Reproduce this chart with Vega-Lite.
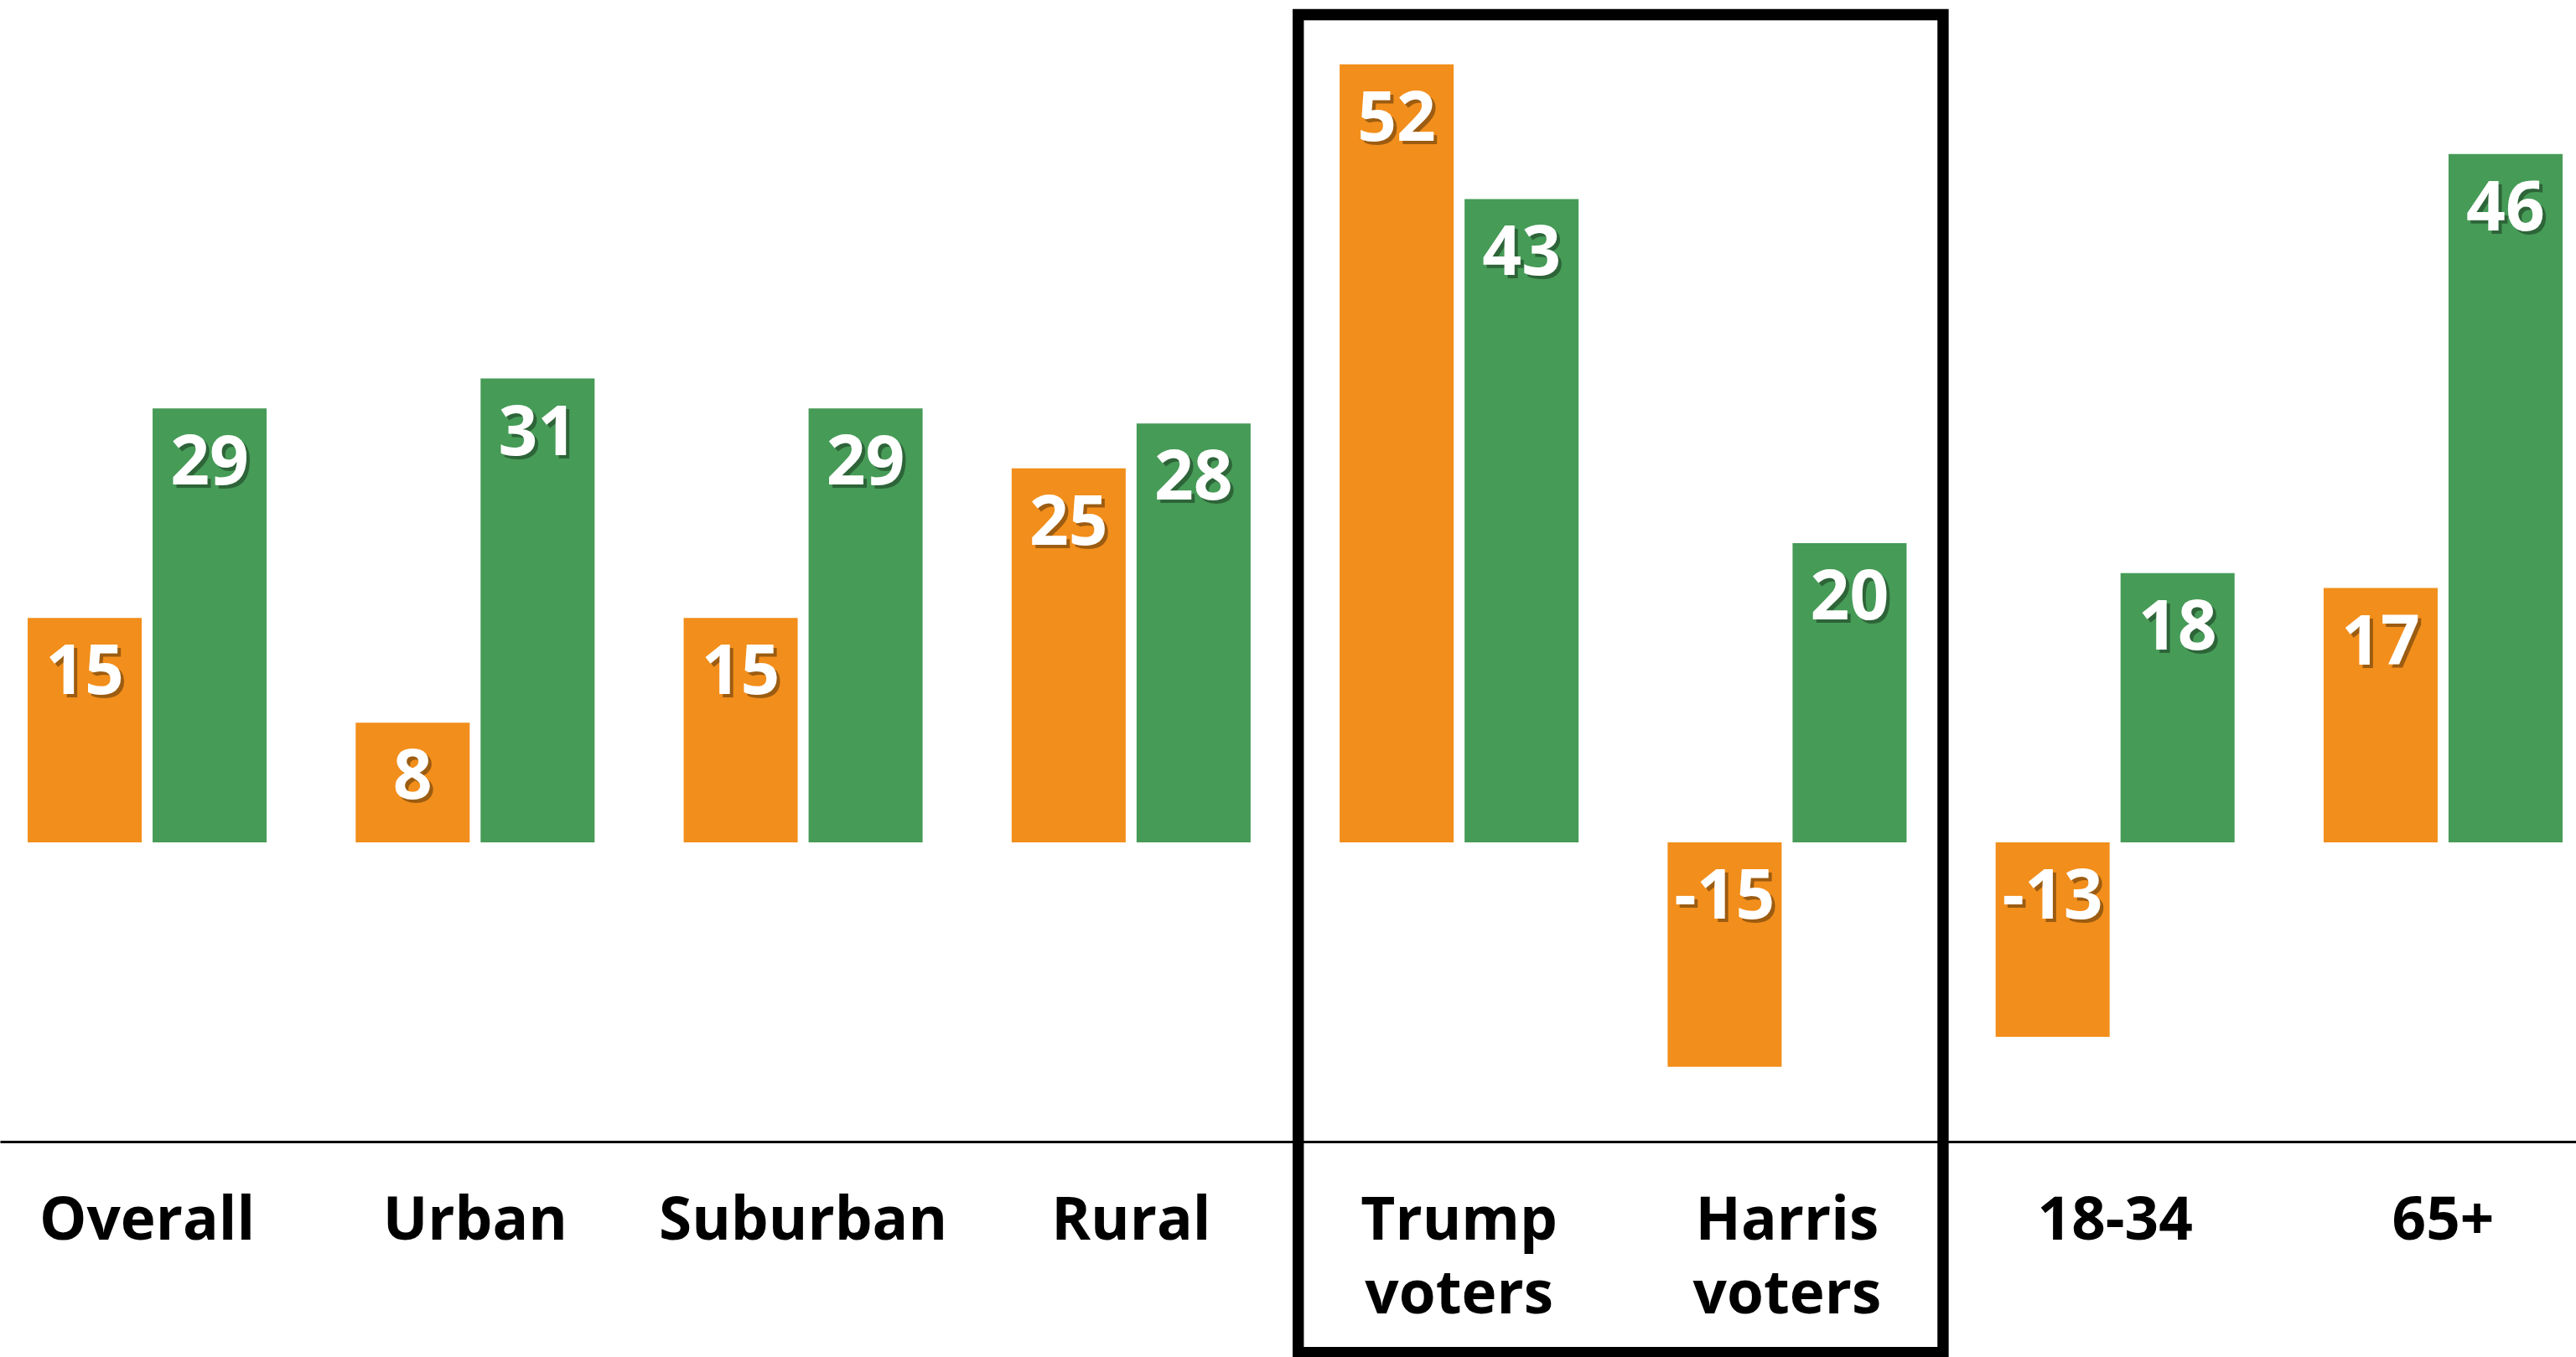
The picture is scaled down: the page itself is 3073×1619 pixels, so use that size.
{
  "$schema": "https://vega.github.io/schema/vega-lite/v6.json",
  "width": 3090,
  "height": 1362,
  "autosize": {"type": "none"},
  "padding": {"left": 0, "top": 0, "right": 0, "bottom": 257},
  "background": "white",
  "config": {"view": {"stroke": null}},
  "data": {
    "values": [
      {"group": "Overall", "series": "Series 1", "value": 15},
      {"group": "Overall", "series": "Series 2", "value": 29},
      {"group": "Urban", "series": "Series 1", "value": 8},
      {"group": "Urban", "series": "Series 2", "value": 31},
      {"group": "Suburban", "series": "Series 1", "value": 15},
      {"group": "Suburban", "series": "Series 2", "value": 29},
      {"group": "Rural", "series": "Series 1", "value": 25},
      {"group": "Rural", "series": "Series 2", "value": 28},
      {"group": "Trump voters", "series": "Series 1", "value": 52},
      {"group": "Trump voters", "series": "Series 2", "value": 43},
      {"group": "Harris voters", "series": "Series 1", "value": -15},
      {"group": "Harris voters", "series": "Series 2", "value": 20},
      {"group": "18-34", "series": "Series 1", "value": -13},
      {"group": "18-34", "series": "Series 2", "value": 18},
      {"group": "65+", "series": "Series 1", "value": 17},
      {"group": "65+", "series": "Series 2", "value": 46}
    ]
  },
  "encoding": {
    "x": {
      "field": "group",
      "type": "nominal",
      "sort": null,
      "scale": {"paddingInner": 0.2715, "paddingOuter": 0.0844},
      "axis": {
        "title": null,
        "labelAngle": 0,
        "labelFont": "Open Sans",
        "labelFontWeight": "bold",
        "labelFontSize": 71,
        "labelColor": "black",
        "labelPadding": 60,
        "labelLimit": 1000,
        "labelOverlap": false,
        "labelBound": false,
        "labelExpr": "split(datum.label, ' ')",
        "labelLineHeight": 88,
        "ticks": false,
        "tickSize": 0,
        "grid": false,
        "domainColor": "black",
        "domainWidth": 3
      }
    }
  },
  "layer": [
    {
      "mark": {"type": "bar"},
      "encoding": {
        "xOffset": {"field": "series", "type": "nominal", "scale": {"paddingInner": 0.0872, "paddingOuter": 0}},
        "y": {"field": "value", "type": "quantitative", "scale": {"domain": [-20, 56.3], "nice": false, "zero": false}, "axis": null},
        "y2": {"datum": 0},
        "color": {"field": "series", "type": "nominal", "scale": {"domain": ["Series 1", "Series 2"], "range": ["#F28E1B", "#469B57"]}, "legend": null}
      }
    },
    {
      "transform": [{"filter": "datum.value >= 0"}],
      "mark": {"type": "text", "font": "Open Sans", "fontWeight": "bold", "fontSize": 82, "align": "center", "baseline": "alphabetic", "dx": 4, "dy": 95, "fill": "#000000", "opacity": 0.35},
      "encoding": {
        "xOffset": {"field": "series", "type": "nominal"},
        "y": {"field": "value", "type": "quantitative"},
        "text": {"field": "value", "type": "nominal"}
      }
    },
    {
      "transform": [{"filter": "datum.value < 0"}],
      "mark": {"type": "text", "font": "Open Sans", "fontWeight": "bold", "fontSize": 82, "align": "center", "baseline": "alphabetic", "dx": 4, "dy": 95, "fill": "#000000", "opacity": 0.35},
      "encoding": {
        "xOffset": {"field": "series", "type": "nominal"},
        "y": {"datum": 0, "type": "quantitative"},
        "text": {"field": "value", "type": "nominal"}
      }
    },
    {
      "transform": [{"filter": "datum.value >= 0"}],
      "mark": {"type": "text", "font": "Open Sans", "fontWeight": "bold", "fontSize": 82, "align": "center", "baseline": "alphabetic", "dy": 91, "fill": "white"},
      "encoding": {
        "xOffset": {"field": "series", "type": "nominal"},
        "y": {"field": "value", "type": "quantitative"},
        "text": {"field": "value", "type": "nominal"}
      }
    },
    {
      "transform": [{"filter": "datum.value < 0"}],
      "mark": {"type": "text", "font": "Open Sans", "fontWeight": "bold", "fontSize": 82, "align": "center", "baseline": "alphabetic", "dy": 91, "fill": "white"},
      "encoding": {
        "xOffset": {"field": "series", "type": "nominal"},
        "y": {"datum": 0, "type": "quantitative"},
        "text": {"field": "value", "type": "nominal"}
      }
    },
    {
      "data": {"values": [{"box": "Trump and Harris voters"}]},
      "mark": {"type": "rect", "filled": false, "stroke": "black", "strokeWidth": 13.4, "clip": false, "xOffset": -49.4, "x2Offset": 43.5},
      "encoding": {
        "x": {"datum": "Trump voters", "type": "nominal", "bandPosition": 0},
        "x2": {"datum": "Harris voters", "bandPosition": 1},
        "y": {"datum": 55.32, "type": "quantitative"},
        "y2": {"datum": -34.1}
      }
    }
  ]
}
